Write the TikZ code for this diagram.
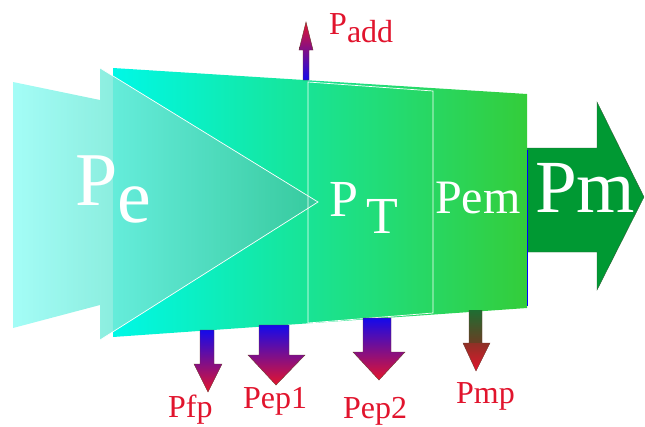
\documentclass[tikz,border=0pt]{standalone}
\usepackage{fontspec}
\setmainfont{LiberationSerif}[Extension=.ttf, UprightFont=*-Regular, BoldFont=*-Bold]
\usepackage{tikz}
\definecolor{bodycyan}{RGB}{0,248,230}
\definecolor{bodygreen}{RGB}{52,205,58}
\definecolor{inleft}{RGB}{148,252,245}
\definecolor{inright}{RGB}{60,198,160}
\definecolor{outgreen}{RGB}{0,153,51}
\definecolor{outrim}{RGB}{50,95,55}
\definecolor{lossblue}{RGB}{20,10,235}
\definecolor{lossred}{RGB}{228,20,45}
\definecolor{lossrim}{RGB}{110,55,45}
\definecolor{mechgreen}{RGB}{30,110,50}
\definecolor{mechbrown}{RGB}{105,62,35}
\definecolor{lblred}{RGB}{225,20,45}
\tikzset{
  loss/.style={top color=lossblue, bottom color=lossred, draw=lossrim, line width=0.4pt},
  lbl/.style={text=lblred, font=\fontsize{32}{32}\selectfont, inner sep=0pt, anchor=base west},
  big/.style={text=white, inner sep=0pt, anchor=base west},
  rim/.style={draw=white, line width=0.7pt},
}
\begin{document}
\begin{tikzpicture}[x=1pt, y=-1pt]
\useasboundingbox (0,0) rectangle (645,426);
% output arrow
\fill[outgreen, draw=outrim, line width=0.4pt] (520,148) -- (597,148) -- (597,102) -- (644,197)
  -- (597,290) -- (597,252) -- (520,252) -- cycle;
% body
\shade[left color=bodycyan, right color=bodygreen] (113,68) -- (527,94) -- (527,308) -- (113,337) -- cycle;
\draw[blue, line width=0.8pt] (527,150) -- (527,306);
% input arrow
\shade[left color=inleft, right color=inright, fill opacity=0.85] (13,82) -- (100,100) -- (100,68) -- (318,202)
  -- (100,340) -- (100,305) -- (13,328) -- cycle;
\draw[rim] (100,68) -- (318,202) -- (100,340);
% converter box
\draw[rim] (308,82) -- (433,91) -- (433,313) -- (308,323) -- cycle;
% added power
\shade[top color=lossred, bottom color=lossblue, draw=lossrim, line width=0.4pt]
  (303,80) -- (303,50) -- (299,50) -- (306,22) -- (313,50) -- (309,50) -- (309,80) -- cycle;
% losses
\foreach \xa/\xb/\ya/\yb/\xc/\xd/\xt/\yt in {200/214/330/364/194/222/208/392,
    259/289/325/355/248/305/276/385, 363/391/318/352/353/405/379/380}{
  \shade[loss] (\xa,\ya) -- (\xb,\ya) -- (\xb,\yb) -- (\xd,\yb) -- (\xt,\yt) -- (\xc,\yb) -- (\xa,\yb) -- cycle;
}
\shade[top color=mechgreen, bottom color=mechbrown] (469,310) rectangle (482,343);
\shade[top color=mechbrown!70!lossred, bottom color=lossred] (469,343) -- (463,343) -- (476,371) -- (490,343) -- (482,343) -- cycle;
\draw[lossrim, line width=0.4pt] (469,310) -- (469,343) -- (463,343) -- (476,371) -- (490,343) -- (482,343) -- (482,310);
% texts
\node[big, font=\fontsize{76}{76}\selectfont] (pe) at (75,205) {P\raisebox{-17pt}{e}};
\node[big, font=\fontsize{52}{52}\selectfont] (pt) at (329,216) {P\hspace{8pt}\raisebox{-17pt}{T}};
\node[big, font=\fontsize{48}{48}\selectfont] (pem) at (435,213) {Pem};
\node[big, font=\fontsize{75}{75}\selectfont] (pm) at (535,212) {Pm};
\node[lbl] (padd) at (329,34) {P\raisebox{-8pt}{add}};
\node[lbl] (pfp) at (168,417) {Pfp};
\node[lbl] (pep1) at (243,408) {Pep1};
\node[lbl] (pep2) at (343,418) {Pep2};
\node[lbl] (pmp) at (456,403) {Pmp};
\end{tikzpicture}
\end{document}
